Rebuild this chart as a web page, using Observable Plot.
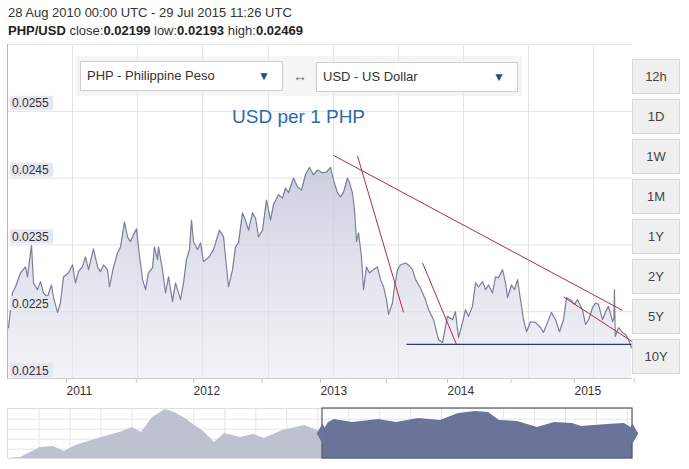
<!DOCTYPE html>
<html><head><meta charset="utf-8">
<script src="https://cdn.jsdelivr.net/npm/d3@7"></script>
<script src="https://cdn.jsdelivr.net/npm/@observablehq/plot@0.6"></script>
<style>
body{margin:0;background:#fff;font-family:"Liberation Sans",Arial,sans-serif;color:#333;}
#wrap{position:relative;width:689px;height:469px;overflow:hidden;background:#fff;}
.abs{position:absolute;}
.hdr{left:8px;font-size:13px;white-space:nowrap;color:#333;}
.hdr b{color:#222;}
.panel{left:76px;top:56px;width:446px;height:40px;background:rgba(236,236,236,0.55);}
.sel{height:30px;box-sizing:border-box;border:1px solid #cfcfcf;background:#fff;font-size:13px;line-height:28px;padding-left:6px;color:#333;}
.tri{position:absolute;right:12px;top:0;color:#1f4e7e;font-size:12px;}
.btn{left:632px;width:48px;height:35px;box-sizing:border-box;border:1px solid #d8d8d8;background:#efefef;font-size:13px;text-align:center;line-height:33px;color:#444;}
.title{left:232px;top:106px;font-size:19px;color:#2a6aad;white-space:nowrap;}
</style></head>
<body>
<div id="wrap">
  <div id="main" class="abs" style="left:0;top:0;"></div>
  <div id="nav" class="abs" style="left:0;top:400px;"></div>
  <div class="abs hdr" style="top:5px;">28 Aug 2010 00:00 UTC - 29 Jul 2015 11:26 UTC</div>
  <div class="abs hdr" style="top:23px;"><b>PHP/USD</b> close:<b>0.02199</b> low:<b>0.02193</b> high:<b>0.02469</b></div>
  <div class="abs panel"></div>
  <div class="abs sel" style="left:80px;top:61px;width:203px;">PHP - Philippine Peso<span class="tri">&#9660;</span></div>
  <div class="abs" style="left:293px;top:68px;font-size:14px;color:#666;">&#8596;</div>
  <div class="abs sel" style="left:316px;top:62px;width:202px;">USD - US Dollar<span class="tri">&#9660;</span></div>
  <div class="abs title">USD per 1 PHP</div>
  <div id="btns"></div>
</div>
<script>
// ---- main series (decimal year, PHP/USD rate) ----
const years = [
2010.575,2010.606,2010.630,2010.669,2010.709,2010.724,2010.756,2010.772,2010.803,2010.827,
2010.850,2010.882,2010.913,2010.929,2010.961,2010.984,2011.008,2011.047,2011.079,2011.102,
2011.126,2011.157,2011.181,2011.205,2011.244,2011.276,2011.299,2011.323,2011.354,2011.370,
2011.402,2011.433,2011.457,2011.488,2011.512,2011.535,2011.559,2011.583,2011.598,2011.630,
2011.654,2011.677,2011.709,2011.724,2011.748,2011.756,2011.787,2011.811,2011.835,2011.866,
2011.890,2011.929,2011.953,2011.976,2012.000,2012.016,2012.031,2012.063,2012.087,2012.110,
2012.150,2012.189,2012.236,2012.268,2012.291,2012.307,2012.339,2012.362,2012.386,2012.417,
2012.441,2012.465,2012.496,2012.520,2012.543,2012.575,2012.606,2012.638,2012.661,2012.701,
2012.732,2012.756,2012.780,2012.819,2012.850,2012.882,2012.913,2012.945,2012.976,2013.008,
2013.047,2013.079,2013.110,2013.134,2013.165,2013.189,2013.213,2013.244,2013.260,2013.283,
2013.299,2013.315,2013.331,2013.354,2013.370,2013.394,2013.417,2013.449,2013.480,2013.504,
2013.528,2013.551,2013.567,2013.598,2013.614,2013.638,2013.661,2013.701,2013.724,2013.756,
2013.780,2013.819,2013.858,2013.882,2013.921,2013.961,2013.992,2014.008,2014.031,2014.071,
2014.094,2014.118,2014.150,2014.173,2014.197,2014.228,2014.252,2014.276,2014.307,2014.331,
2014.354,2014.386,2014.409,2014.433,2014.465,2014.488,2014.504,2014.535,2014.559,2014.583,
2014.606,2014.630,2014.654,2014.685,2014.724,2014.764,2014.787,2014.819,2014.850,2014.882,
2014.913,2014.945,2014.969,2015.000,2015.031,2015.055,2015.094,2015.118,2015.142,2015.173,
2015.197,2015.220,2015.252,2015.276,2015.299,2015.331,2015.342,2015.346,2015.352,2015.378,
2015.409,2015.433,2015.457,2015.480];
const rates = [
0.02226,0.02278,0.02287,0.02308,0.02317,0.02302,0.02349,0.02293,0.02283,0.02295,
0.02278,0.02272,0.02290,0.02271,0.02249,0.02263,0.02302,0.02308,0.02320,0.02293,
0.02310,0.02317,0.02332,0.02313,0.02344,0.02317,0.02310,0.02320,0.02313,0.02287,
0.02317,0.02338,0.02347,0.02384,0.02362,0.02355,0.02365,0.02374,0.02347,0.02298,
0.02283,0.02308,0.02316,0.02347,0.02328,0.02347,0.02313,0.02278,0.02302,0.02265,
0.02293,0.02268,0.02293,0.02328,0.02343,0.02387,0.02355,0.02343,0.02353,0.02325,
0.02331,0.02343,0.02372,0.02362,0.02317,0.02287,0.02313,0.02347,0.02353,0.02398,
0.02387,0.02372,0.02398,0.02390,0.02362,0.02372,0.02417,0.02387,0.02410,0.02425,
0.02420,0.02435,0.02428,0.02450,0.02437,0.02432,0.02455,0.02466,0.02455,0.02462,
0.02458,0.02459,0.02466,0.02447,0.02428,0.02422,0.02429,0.02450,0.02443,0.02428,
0.02402,0.02355,0.02368,0.02332,0.02283,0.02317,0.02308,0.02313,0.02317,0.02298,
0.02287,0.02268,0.02246,0.02263,0.02287,0.02313,0.02320,0.02323,0.02320,0.02313,
0.02298,0.02285,0.02268,0.02253,0.02238,0.02208,0.02204,0.02219,0.02243,0.02238,
0.02250,0.02211,0.02234,0.02253,0.02243,0.02258,0.02293,0.02287,0.02295,0.02283,
0.02290,0.02278,0.02302,0.02301,0.02313,0.02293,0.02271,0.02290,0.02283,0.02298,
0.02268,0.02238,0.02220,0.02235,0.02234,0.02226,0.02219,0.02234,0.02249,0.02238,
0.02220,0.02238,0.02271,0.02268,0.02261,0.02268,0.02253,0.02231,0.02238,0.02256,
0.02263,0.02261,0.02238,0.02250,0.02258,0.02235,0.02240,0.02283,0.02213,0.02226,
0.02219,0.02216,0.02208,0.02196];

// ---- drawn trend lines (start/end) ----
const trendX1 = [2013.134, 2013.323, 2013.835, 2014.945];
const trendY1 = [0.02484, 0.02483, 0.02323, 0.02272];
const trendX2 = [2015.409, 2013.685, 2014.102, 2015.488];
const trendY2 = [0.02252, 0.02249, 0.02201, 0.02205];
const supportX = [2013.709, 2015.480];
const supportY = 0.02201;

// ---- axes ----
const yTicks = [0.0215, 0.0225, 0.0235, 0.0245, 0.0255];
const yTickLabels = ["0.0215", "0.0225", "0.0235", "0.0245", "0.0255"];
const xTicks = [2011, 2011.55, 2012, 2012.54, 2013, 2013.52, 2014, 2014.5, 2015, 2015.47];
const xTickLabels = ["2011", "", "2012", "", "2013", "", "2014", "", "2015", ""];
const gridX = [2011.079, 2011.591, 2012.102, 2012.622, 2013.134, 2013.646, 2014.157, 2014.669, 2015.181];
const xDomain = [2010.567, 2015.488];
const yDomain = [0.0215, 0.0265];

// ---- navigator series ----
const navYears = [2005.600,2005.806,2006.122,2006.328,2006.502,2006.676,2007.087,2007.372,2007.578,2007.720,
2007.894,2008.100,2008.243,2008.417,2008.559,2008.686,2008.876,2009.034,2009.287,2009.493,
2009.667,2009.952,2010.300,2010.426,2010.584,2010.680,2010.774,2011.059,2011.471,2011.756,
2012.104,2012.452,2012.737,2013.006,2013.211,2013.385,2013.670,2013.987,2014.256,2014.540,
2014.683,2015.094,2015.363,2015.490];
const navRates = [0.01750,0.01765,0.01915,0.01930,0.01855,0.01945,0.02065,0.02140,0.02215,0.02140,
0.02365,0.02485,0.02440,0.02350,0.02245,0.02170,0.01990,0.02125,0.02065,0.02110,
0.02050,0.02170,0.02245,0.02200,0.02140,0.02290,0.02335,0.02290,0.02335,0.02290,
0.02350,0.02320,0.02425,0.02455,0.02440,0.02320,0.02305,0.02215,0.02290,0.02275,
0.02230,0.02260,0.02275,0.02200];
const navDomainX = [2005.6, 2015.49];
const navDomainY = [0.0175, 0.0250];
const navSel = [2010.584, 2015.49];
const navGridY = [0.0189, 0.0204, 0.0219, 0.0234];

const buttons = ["12h","1D","1W","1M","1Y","2Y","5Y","10Y"];

const data = years.map((x, i) => ({x, v: rates[i]}));
const trends = trendX1.map((x, i) => ({x1: x, y1: trendY1[i], x2: trendX2[i], y2: trendY2[i]}));
const navData = navYears.map((x, i) => ({x, v: navRates[i]}));
const NS = "http://www.w3.org/2000/svg";

function defsMark() {
  const d = document.createElementNS(NS, "defs");
  d.innerHTML = '<linearGradient id="pg" x1="0" y1="0" x2="0" y2="1">' +
    '<stop offset="0" stop-color="#c3c6da" stop-opacity="0.85"/>' +
    '<stop offset="1" stop-color="#e8e9f1" stop-opacity="0.55"/></linearGradient>';
  return d;
}
function yLabelMark(index, scales) {
  const g = document.createElementNS(NS, "g");
  g.setAttribute("text-anchor", "start");
  yTicks.forEach((t, i) => {
    const y = scales.y(t);
    const r = document.createElementNS(NS, "rect");
    r.setAttribute("x", 10); r.setAttribute("y", y - 15);
    r.setAttribute("width", 43); r.setAttribute("height", 14);
    r.setAttribute("fill", "#e5e6f1");
    g.appendChild(r);
    const tx = document.createElementNS(NS, "text");
    tx.setAttribute("x", 12); tx.setAttribute("y", y - 3.5);
    tx.setAttribute("text-anchor", "start");
    tx.setAttribute("font-size", 12); tx.setAttribute("fill", "#333");
    tx.textContent = yTickLabels[i];
    g.appendChild(tx);
  });
  return g;
}

const main = Plot.plot({
  width: 640, height: 400,
  marginLeft: 7, marginRight: 8, marginTop: 44, marginBottom: 22,
  x: {domain: xDomain},
  y: {domain: yDomain},
  style: {fontFamily: '"Liberation Sans", Arial, sans-serif', fontSize: "12px", color: "#333", background: "transparent", overflow: "visible"},
  marks: [
    defsMark,
    Plot.ruleX(gridX, {stroke: "#e3e3e3", strokeWidth: 1}),
    Plot.ruleY(yTicks.slice(1), {stroke: "#e3e3e3", strokeWidth: 1}),
    Plot.ruleY([yDomain[1]], {stroke: "#e3e3e3"}),
    Plot.areaY(data, {x: "x", y1: yDomain[0], y2: "v", fill: "url(#pg)"}),
    Plot.lineY(data, {x: "x", y: "v", stroke: "#7b7f9c", strokeWidth: 1.2}),
    Plot.link(trends, {x1: "x1", y1: "y1", x2: "x2", y2: "y2", stroke: "#b02a45", strokeWidth: 1}),
    Plot.link([0], {x1: supportX[0], x2: supportX[1], y1: supportY, y2: supportY, stroke: "#2c3a78", strokeWidth: 1.3}),
    Plot.ruleY([yDomain[0]], {stroke: "#cccccc"}),
    Plot.ruleX([xDomain[0]], {stroke: "#b3b3b3"}),
    Plot.axisX({ticks: xTicks, tickSize: 5, tickPadding: 3, stroke: "#cccccc",
      tickFormat: d => xTickLabels[xTicks.indexOf(d)] ?? "", textAnchor: "start", dx: 4, fill: "#333", fontSize: 12, label: null}),
    Plot.axisY({ticks: [], label: null}),
    yLabelMark
  ]
});
document.getElementById("main").appendChild(main);

const nav = Plot.plot({
  width: 640, height: 62,
  marginLeft: 7, marginRight: 8, marginTop: 8, marginBottom: 4,
  x: {domain: navDomainX, axis: null},
  y: {domain: navDomainY, axis: null},
  style: {background: "transparent", overflow: "visible"},
  marks: [
    Plot.gridX({ticks: d3.range(2006.1, 2015.5, 0.49), stroke: "#e4e4e4", strokeOpacity: 1}),
    Plot.gridY({ticks: navGridY, stroke: "#e4e4e4", strokeOpacity: 1}),
    Plot.frame({stroke: "#e0e0e0"}),
    Plot.areaY(navData, {filter: d => d.x <= navSel[0], x: "x", y1: navDomainY[0], y2: "v", fill: "#bec1d0"}),
    Plot.areaY(navData, {filter: d => d.x >= navSel[0], x: "x", y1: navDomainY[0], y2: "v", fill: "#6a7398"}),
    Plot.rect([0], {x1: navSel[0], x2: navSel[1], y1: navDomainY[0], y2: navDomainY[1], fill: "none", stroke: "#555a6e", strokeWidth: 1.2}),
    Plot.dot(navSel, {x: d => d, y: (navDomainY[0] + navDomainY[1]) / 2, symbol: "diamond", r: 6, fill: "#6a7398"})
  ]
});
document.getElementById("nav").appendChild(nav);

const bw = document.getElementById("btns");
buttons.forEach((b, i) => {
  const el = document.createElement("div");
  el.className = "abs btn";
  el.style.top = (59 + 40 * i) + "px";
  el.textContent = b;
  bw.appendChild(el);
});
</script>
</body></html>
